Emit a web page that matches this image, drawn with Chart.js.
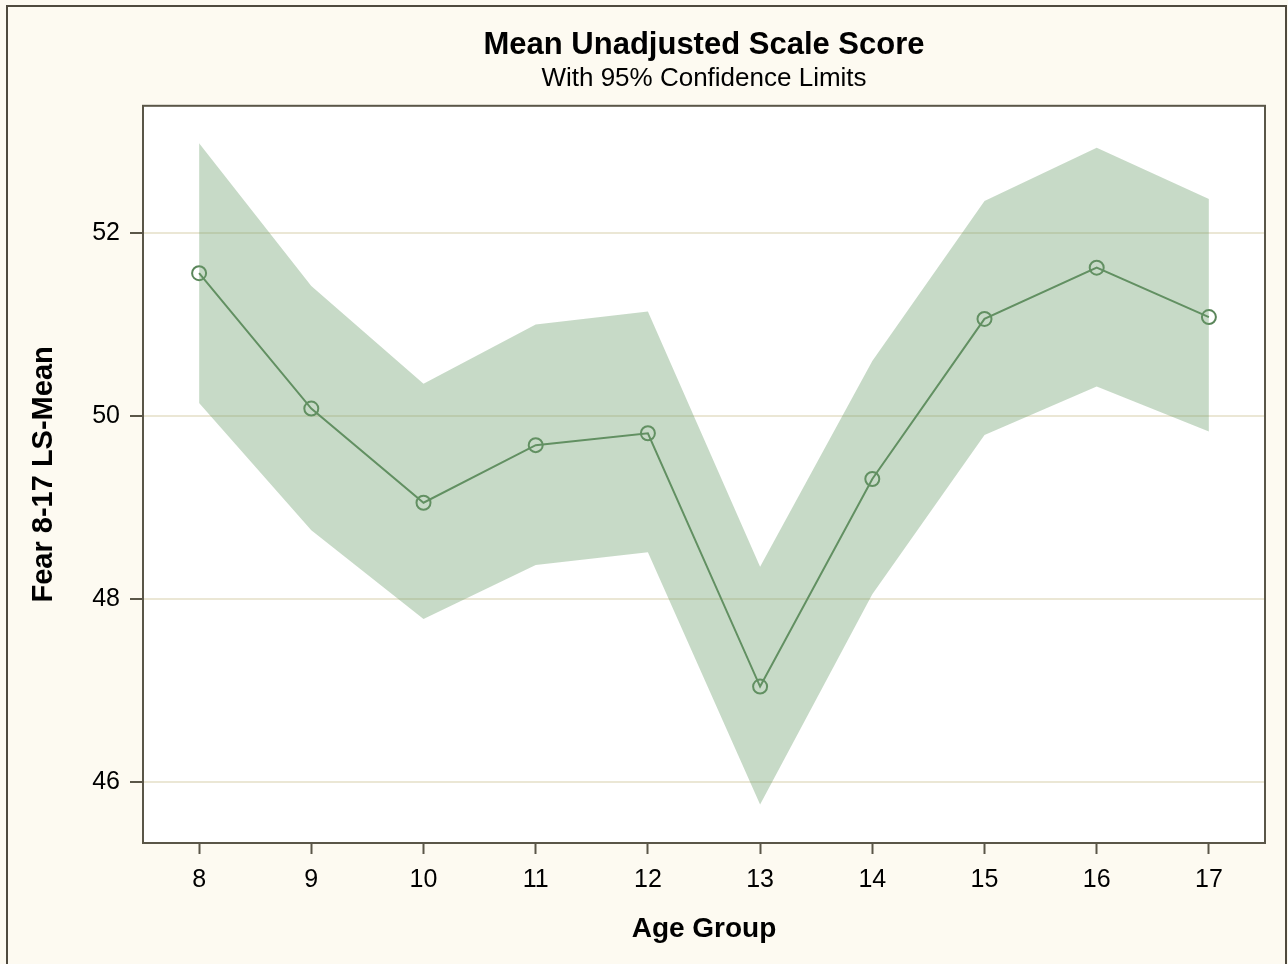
<!DOCTYPE html>
<html>
<head>
<meta charset="utf-8">
<script src="https://cdn.jsdelivr.net/npm/chart.js@4.4.0/dist/chart.umd.min.js"></script>
<style>
  html, body { margin: 0; padding: 0; background: #fdfaf1; }
  #wrap { width: 1288px; height: 964px; }
</style>
</head>
<body>
<div id="wrap"><canvas id="chart" width="1288" height="964"></canvas></div>
<script>
const ageGroups = [8, 9, 10, 11, 12, 13, 14, 15, 16, 17];
const meanScore = [51.56, 50.08, 49.05, 49.68, 49.81, 47.04, 49.31, 51.06, 51.62, 51.08];
const upperLimit = [52.98, 51.42, 50.35, 51.00, 51.14, 48.35, 50.60, 52.35, 52.93, 52.37];
const lowerLimit = [50.14, 48.75, 47.78, 48.37, 48.51, 45.75, 48.05, 49.79, 50.32, 49.83];
const yTicks = [46, 48, 50, 52];

const FONT = "'Liberation Sans', Arial, Helvetica, sans-serif";

const toPoints = vals => vals.map((v, i) => ({ x: ageGroups[i], y: v }));

// cream page, outer frame, white plot area and its border
const framePlugin = {
    id: 'frame',
    beforeDraw(chart) {
        const ctx = chart.ctx;
        const a = chart.chartArea;
        ctx.save();
        ctx.fillStyle = '#fdfaf1';
        ctx.fillRect(0, 0, chart.width, chart.height);
        ctx.strokeStyle = '#4f4a3e';
        ctx.lineWidth = 2;
        ctx.strokeRect(7, 6, 1279, 970);
        ctx.fillStyle = '#ffffff';
        ctx.fillRect(a.left, a.top, a.right - a.left, a.bottom - a.top);
        ctx.restore();
    },
    afterDatasetsDraw(chart) {
        const ctx = chart.ctx;
        const a = chart.chartArea;
        ctx.save();
        ctx.strokeStyle = '#5a5648';
        ctx.lineWidth = 2;
        ctx.strokeRect(a.left, a.top, a.right - a.left, a.bottom - a.top);
        ctx.restore();
    }
};

new Chart(document.getElementById('chart'), {
    type: 'line',
    data: {
        datasets: [
            {
                label: 'Upper',
                data: toPoints(upperLimit),
                borderWidth: 0,
                pointRadius: 0,
                fill: '+1',
                backgroundColor: 'rgba(110, 160, 110, 0.39)',
                tension: 0
            },
            {
                label: 'Lower',
                data: toPoints(lowerLimit),
                borderWidth: 0,
                pointRadius: 0,
                fill: false,
                tension: 0
            },
            {
                label: 'Mean',
                data: toPoints(meanScore),
                borderColor: '#5a865a',
                borderWidth: 2,
                pointRadius: 7,
                pointBorderWidth: 2,
                pointBorderColor: '#5a865a',
                pointBackgroundColor: 'rgba(0,0,0,0)',
                fill: false,
                tension: 0
            }
        ]
    },
    options: {
        responsive: false,
        animation: false,
        layout: { padding: { left: 0, right: 23, top: 0, bottom: 0 } },
        plugins: {
            legend: { display: false },
            tooltip: { enabled: false },
            title: {
                display: true,
                fullSize: false,
                text: 'Mean Unadjusted Scale Score',
                color: '#000',
                font: { family: FONT, size: 31, weight: 'bold' },
                padding: { top: 27, bottom: 0 }
            },
            subtitle: {
                display: true,
                fullSize: false,
                text: 'With 95% Confidence Limits',
                color: '#000',
                font: { family: FONT, size: 26, lineHeight: 1.1 },
                padding: { top: 0, bottom: 13 }
            }
        },
        scales: {
            x: {
                type: 'linear',
                min: 7.5,
                max: 17.5,
                afterBuildTicks: scale => { scale.ticks = ageGroups.map(v => ({ value: v })); },
                afterFit: scale => { scale.height = 121; },
                border: { display: false },
                grid: { drawOnChartArea: false, drawTicks: true, tickLength: 11, tickColor: '#5a5648', tickWidth: 2 },
                ticks: { color: '#000', font: { family: FONT, size: 25 }, padding: 11, maxRotation: 0 },
                title: {
                    display: true,
                    text: 'Age Group',
                    color: '#000',
                    font: { family: FONT, size: 28, weight: 'bold' },
                    padding: { top: 18, bottom: 18 }
                }
            },
            y: {
                type: 'linear',
                min: 45.33,
                max: 53.39,
                afterBuildTicks: scale => { scale.ticks = yTicks.map(v => ({ value: v })); },
                afterFit: scale => { scale.width = 143; },
                border: { display: false },
                grid: { color: '#ebe7d5', lineWidth: 2, drawTicks: true, tickLength: 13, tickColor: '#5a5648', tickWidth: 2 },
                ticks: { color: '#000', font: { family: FONT, size: 25 }, padding: 10 },
                title: {
                    display: true,
                    text: 'Fear 8-17 LS-Mean',
                    color: '#000',
                    font: { family: FONT, size: 29, weight: 'bold' },
                    padding: { top: 27, bottom: 0 }
                }
            }
        }
    },
    plugins: [framePlugin]
});
</script>
</body>
</html>
